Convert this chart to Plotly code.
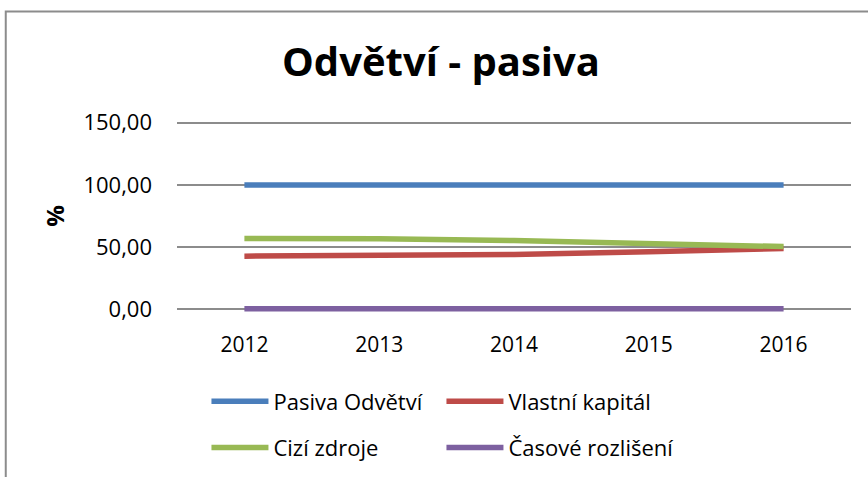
import plotly.graph_objects as go

years = ["2012", "2013", "2014", "2015", "2016"]
pasiva_odvetvi = [100.0, 100.0, 100.0, 100.0, 100.0]
vlastni_kapital = [42.7, 42.9, 44.1, 46.2, 48.9]
cizi_zdroje = [57.0, 56.8, 55.3, 53.4, 50.4]
casove_rozliseni = [0.4, 0.4, 0.4, 0.5, 0.5]
y_ticks = [0, 50, 100, 150]
y_tick_labels = ["0,00", "50,00", "100,00", "150,00"]

series = [
    ("Pasiva Odvětví", pasiva_odvetvi, "#4A7EBB", "legend"),
    ("Vlastní kapitál", vlastni_kapital, "#BE4B48", "legend"),
    ("Cizí zdroje", cizi_zdroje, "#98B954", "legend2"),
    ("Časové rozlišení", casove_rozliseni, "#7D60A0", "legend2"),
]

FONT = "Open Sans"

fig = go.Figure()
for name, vals, color, lg in series:
    fig.add_trace(go.Scatter(
        x=years, y=vals, name=name, mode="lines", legend=lg,
        line=dict(color=color, width=5.5),
    ))

YMIN, YMAX = -3, 153
PX_PER_UNIT = 186 / 150
W, H = 868, 477
L, R = 176.5, 16.5
ph = PX_PER_UNIT * (YMAX - YMIN)
plot_bottom = 309 + PX_PER_UNIT * (0 - YMIN)
B = H - plot_bottom
T = H - B - ph
pw = W - L - R

def px2paperx(px):
    return (px - L) / pw

def py2papery(py):
    return (H - B - py) / ph

legend_common = dict(orientation="h", x=px2paperx(206), xanchor="left",
                     yanchor="middle",
                     entrywidth=163, entrywidthmode="pixels",
                     font=dict(family=FONT, size=22, color="black"),
                     itemwidth=57, bgcolor="rgba(0,0,0,0)")

fig.update_layout(
    width=W, height=H,
    margin=dict(l=L, r=R, t=T, b=B, pad=0, autoexpand=False),
    paper_bgcolor="white", plot_bgcolor="white",
    font=dict(family=FONT, color="black", size=21),
    title=dict(text="<b>Odvětví - pasiva</b>", x=441 / W, xanchor="center",
               y=1 - 62 / H, yanchor="middle",
               font=dict(family=FONT, size=40, color="black")),
    showlegend=True,
    legend=dict(legend_common, y=py2papery(401)),
    legend2=dict(legend_common, y=py2papery(447)),
    xaxis=dict(type="category", range=[-0.5, 4.5], showgrid=False,
               showline=False, ticks="", zeroline=False, automargin=False,
               tickfont=dict(family=FONT, size=21), ticklabelstandoff=17),
    yaxis=dict(range=[YMIN, YMAX], tickvals=y_ticks, ticktext=y_tick_labels,
               showgrid=True, gridcolor="#8C8C8C", gridwidth=1.5,
               zeroline=False, showline=False, ticks="", automargin=False,
               tickfont=dict(family=FONT, size=22), ticklabelstandoff=24,
               title=dict(text="<b>%</b>", standoff=12,
                          font=dict(family=FONT, size=24))),
    shapes=[dict(type="rect", xref="paper", yref="paper",
                 x0=px2paperx(5), x1=px2paperx(875),
                 y0=py2papery(485), y1=py2papery(12),
                 line=dict(color="#8C8C8C", width=2), layer="below")],
)

fig.write_html("out.html", config={"displayModeBar": False},
               post_script="document.body.style.margin='0';document.body.style.overflow='hidden';")
